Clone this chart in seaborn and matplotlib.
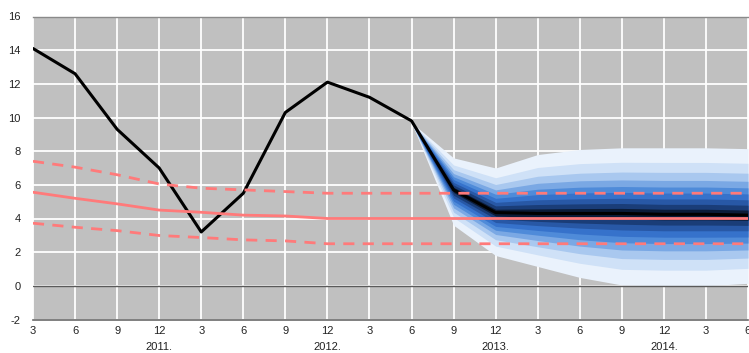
import matplotlib
matplotlib.use("Agg")
import matplotlib.pyplot as plt
import matplotlib.transforms as mtransforms
import seaborn as sns
import pandas as pd
import numpy as np

# ---- data ----
month_labels = ["3", "6", "9", "12", "3", "6", "9", "12", "3", "6", "9", "12",
                "3", "6", "9", "12", "3", "6"]
year_labels = ["2011.", "2012.", "2013.", "2014."]
year_label_pos = [3, 7, 11, 15]

# actual inflation and projection centre (quarter index 0 = March 2011)
inflation = [14.1, 12.6, 9.3, 7.0, 3.2, 5.5, 10.3, 12.1, 11.2, 9.8,
             5.7, 4.35, 4.3, 4.3, 4.3, 4.25, 4.25, 4.2]

# target path and tolerance band
target = [5.56, 5.2, 4.87, 4.5, 4.37, 4.2, 4.15, 4.0, 4.0, 4.0,
          4.0, 4.0, 4.0, 4.0, 4.0, 4.0, 4.0, 4.0]
target_upper = [7.4, 7.05, 6.6, 6.05, 5.8, 5.7, 5.6, 5.5, 5.5, 5.5,
                5.5, 5.5, 5.5, 5.5, 5.5, 5.5, 5.5, 5.5]
target_lower = [3.72, 3.48, 3.28, 2.99, 2.87, 2.73, 2.67, 2.5, 2.5, 2.5,
                2.5, 2.5, 2.5, 2.5, 2.5, 2.5, 2.5, 2.5]

# fan chart (quarters 9..17), outer (90%) to inner (10%) bands
fan_x = [9, 10, 11, 12, 13, 14, 15, 16, 17]
fan_upper = [
    [9.7, 7.60, 7.00, 7.80, 8.10, 8.20, 8.20, 8.20, 8.15],
    [9.7, 7.18, 6.42, 7.03, 7.26, 7.34, 7.33, 7.33, 7.28],
    [9.7, 6.90, 6.02, 6.51, 6.69, 6.76, 6.74, 6.74, 6.69],
    [9.7, 6.67, 5.70, 6.09, 6.24, 6.29, 6.26, 6.26, 6.21],
    [9.7, 6.48, 5.44, 5.74, 5.86, 5.90, 5.87, 5.87, 5.82],
    [9.7, 6.31, 5.20, 5.42, 5.52, 5.55, 5.51, 5.51, 5.46],
    [9.7, 6.14, 4.96, 5.11, 5.17, 5.20, 5.16, 5.16, 5.11],
    [9.7, 5.99, 4.75, 4.83, 4.87, 4.89, 4.84, 4.84, 4.79],
    [9.7, 5.85, 4.55, 4.57, 4.59, 4.60, 4.55, 4.55, 4.50],
]
fan_lower = [
    [9.7, 3.60, 1.80, 1.15, 0.50, 0.05, 0.00, 0.00, 0.15],
    [9.7, 4.06, 2.36, 1.84, 1.34, 0.98, 0.93, 0.93, 1.04],
    [9.7, 4.38, 2.74, 2.32, 1.91, 1.62, 1.57, 1.57, 1.65],
    [9.7, 4.63, 3.05, 2.69, 2.36, 2.13, 2.08, 2.08, 2.13],
    [9.7, 4.84, 3.30, 3.01, 2.74, 2.56, 2.51, 2.51, 2.54],
    [9.7, 5.03, 3.53, 3.29, 3.08, 2.94, 2.89, 2.89, 2.90],
    [9.7, 5.22, 3.76, 3.58, 3.43, 3.32, 3.27, 3.27, 3.27],
    [9.7, 5.38, 3.97, 3.83, 3.73, 3.66, 3.61, 3.61, 3.59],
    [9.7, 5.54, 4.15, 4.06, 4.01, 3.97, 3.92, 3.92, 3.89],
]
fan_colors = ["#eaf2fc", "#cfe1f7", "#a9c8ef", "#7aa8e4", "#4f8bd9",
              "#3672cb", "#2858a6", "#1a3d78", "#0b1c38"]

# ---- style ----
sns.set_theme(style="whitegrid", rc={
    "axes.facecolor": "#c0c0c0",
    "grid.color": "white",
    "grid.linewidth": 1.3,
})
plt.rcParams["font.family"] = ["Liberation Sans", "DejaVu Sans"]
plt.rcParams["axes.unicode_minus"] = False

fig = plt.figure(figsize=(7.49, 3.53), dpi=100)
ax = fig.add_axes([33 / 749, 1 - 319.5 / 353, (748 - 33) / 749, 303 / 353])

x = np.arange(len(month_labels))

for up, lo, col in zip(fan_upper, fan_lower, fan_colors):
    ax.fill_between(fan_x, lo, up, color=col, linewidth=0, zorder=2)

df = pd.DataFrame({"x": x, "inflation": inflation, "target": target,
                   "upper": target_upper, "lower": target_lower})

sns.lineplot(data=df, x="x", y="inflation", color="black", linewidth=2.2,
             ax=ax, zorder=4)
sns.lineplot(data=df, x="x", y="target", color="#ff7a7a", linewidth=2.0,
             ax=ax, zorder=5)
for col in ["upper", "lower"]:
    sns.lineplot(data=df, x="x", y=col, color="#ff7a7a", linewidth=2.0,
                 dashes=False, ax=ax, zorder=5).lines[-1].set_dashes((4, 3))

ax.axhline(0, color="#5a5a5a", linewidth=1.0, zorder=3)

ax.set_xlim(0, 17)
ax.set_ylim(-2, 16)
ax.set_xticks(x)
ax.set_xticklabels(month_labels)
ax.set_yticks(np.arange(-2, 17, 2))
ax.set_xlabel("")
ax.set_ylabel("")
ax.tick_params(axis="both", length=0, labelsize=8, colors="#222222")
ax.tick_params(axis="x", pad=5)
ax.tick_params(axis="y", pad=9)

for s in ["left", "right"]:
    ax.spines[s].set_visible(False)
ax.spines["bottom"].set_color("#6a6a6a")
ax.spines["bottom"].set_linewidth(1.2)
ax.spines["top"].set_color("#8a8a8a")
ax.spines["top"].set_linewidth(1.0)

trans = mtransforms.blended_transform_factory(ax.transData, ax.transAxes)
for pos, lab in zip(year_label_pos, year_labels):
    ax.text(pos, -0.092, lab, transform=trans, ha="center", va="center",
            fontsize=8, color="#222222")

fig.savefig("out.png", dpi=100)
